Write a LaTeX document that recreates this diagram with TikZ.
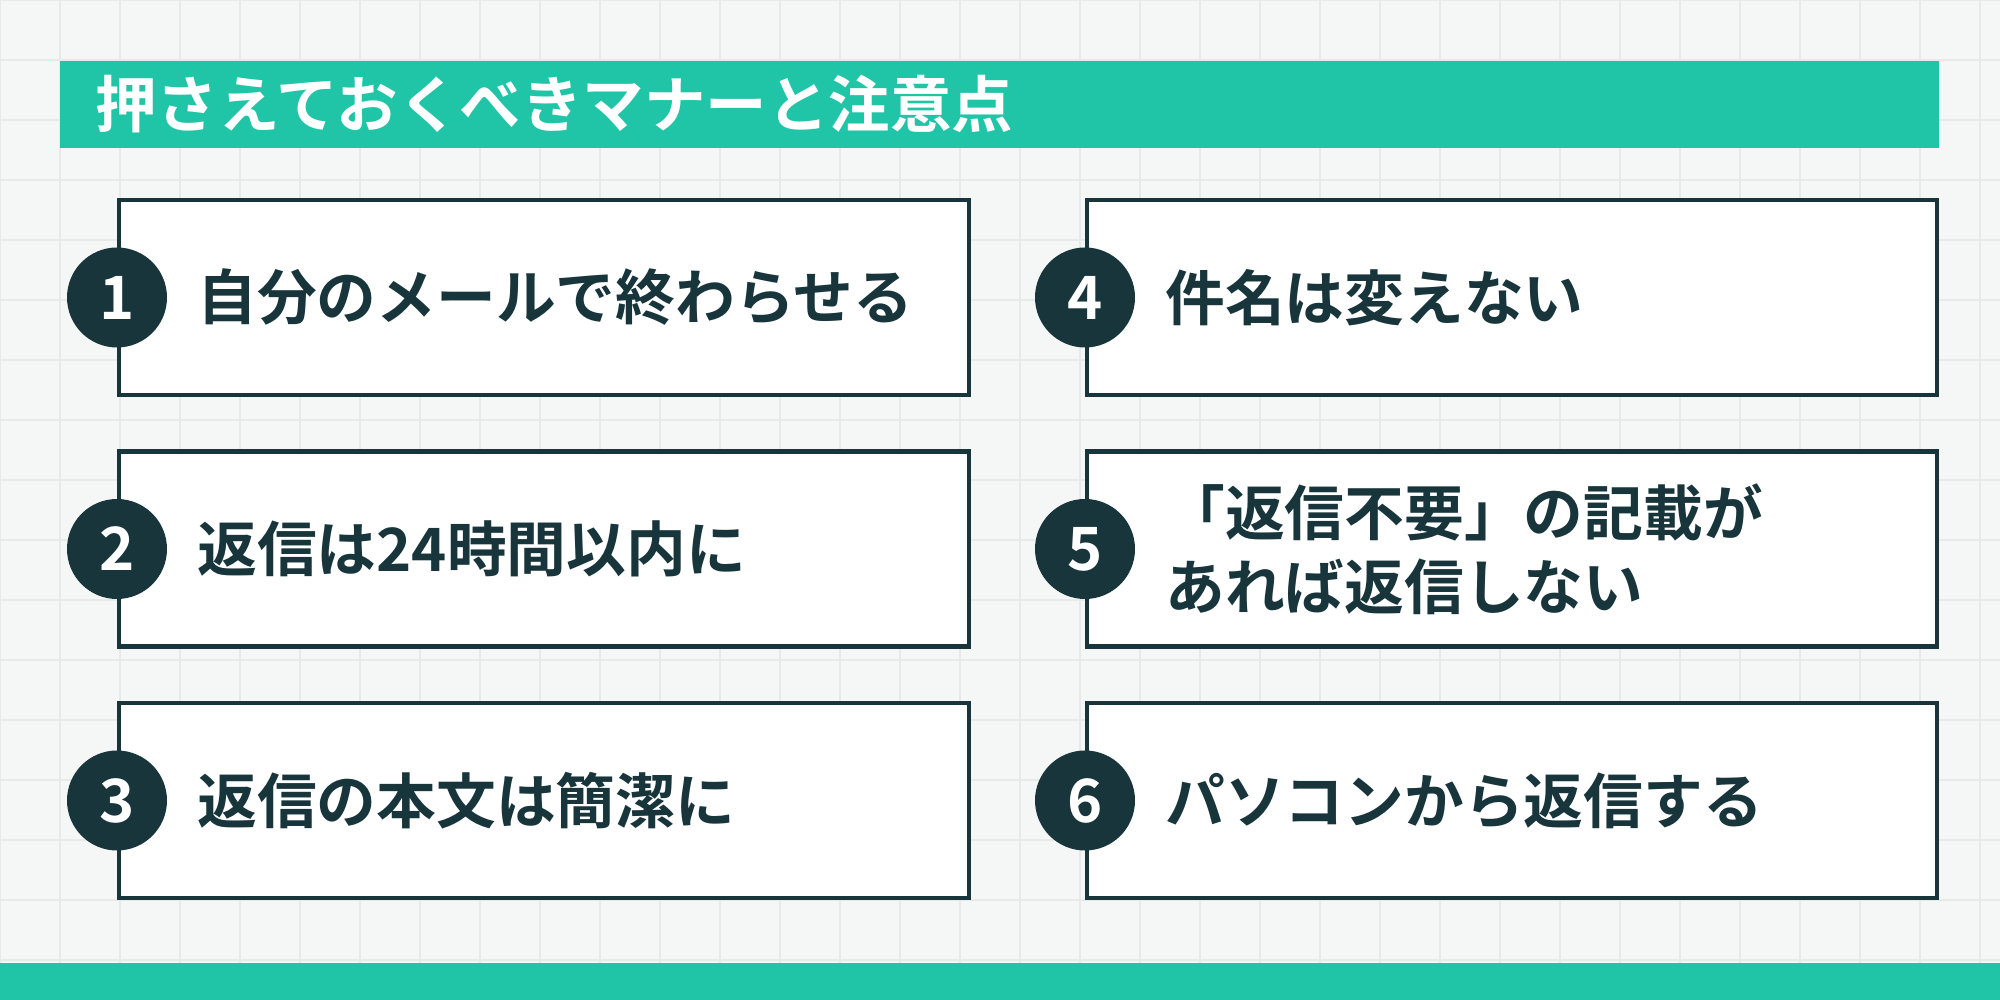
\documentclass[tikz,border=0pt]{standalone}
\usepackage{fontspec}
\newfontfamily\jp{Noto Sans CJK JP Bold}
\usetikzlibrary{positioning}
\definecolor{teal}{HTML}{20C5A8}
\definecolor{ink}{HTML}{17353A}
\definecolor{paper}{HTML}{F5F6F6}
\definecolor{gridline}{HTML}{E8EAEA}
\tikzset{
  itembox/.style={draw=ink, line width=1.2pt, fill=white},
  numdot/.style={circle, fill=ink, minimum size=1cm, inner sep=0pt, text=white, font=\jp\fontsize{17}{17}\selectfont},
  itemtext/.style={anchor=west, text=ink, font=\jp\fontsize{17}{21}\selectfont, align=left}
}
\begin{document}
\begin{tikzpicture}
  \fill[paper] (0,0) rectangle (20,-10);
  \useasboundingbox (0,0) rectangle (20,-10);
  \draw[gridline, line width=0.4pt] (0,0) grid[step=0.6] (20,-10);
  % title bar
  \fill[teal] (0.6,-0.61) rectangle (19.39,-1.48);
  \node[anchor=west, text=white, font=\jp\fontsize{17.5}{17.5}\selectfont] (title) at (0.83,-1.045) {押さえておくべきマナーと注意点};
  \fill[teal] (0,-9.63) rectangle (20,-10);

  \foreach \i/\col/\n/\txt in {
      0/0/1/自分のメールで終わらせる,
      1/0/2/返信は24時間以内に,
      2/0/3/返信の本文は簡潔に,
      0/1/4/件名は変えない,
      1/1/5/{「返信不要」の記載が\\あれば返信しない},
      2/1/6/パソコンから返信する}
  {
    \pgfmathsetmacro\x{1.19+\col*9.68}
    \pgfmathsetmacro\y{-2.0-\i*2.515}
    \draw[itembox] (\x,\y) rectangle ++(8.5,-1.95);
    \node[numdot] (num\n) at (\x-0.02,\y-0.975) {\n};
    \node[itemtext] (item\n) at (\x+0.66,\y-0.975) {\txt};
  }
\end{tikzpicture}
\end{document}
